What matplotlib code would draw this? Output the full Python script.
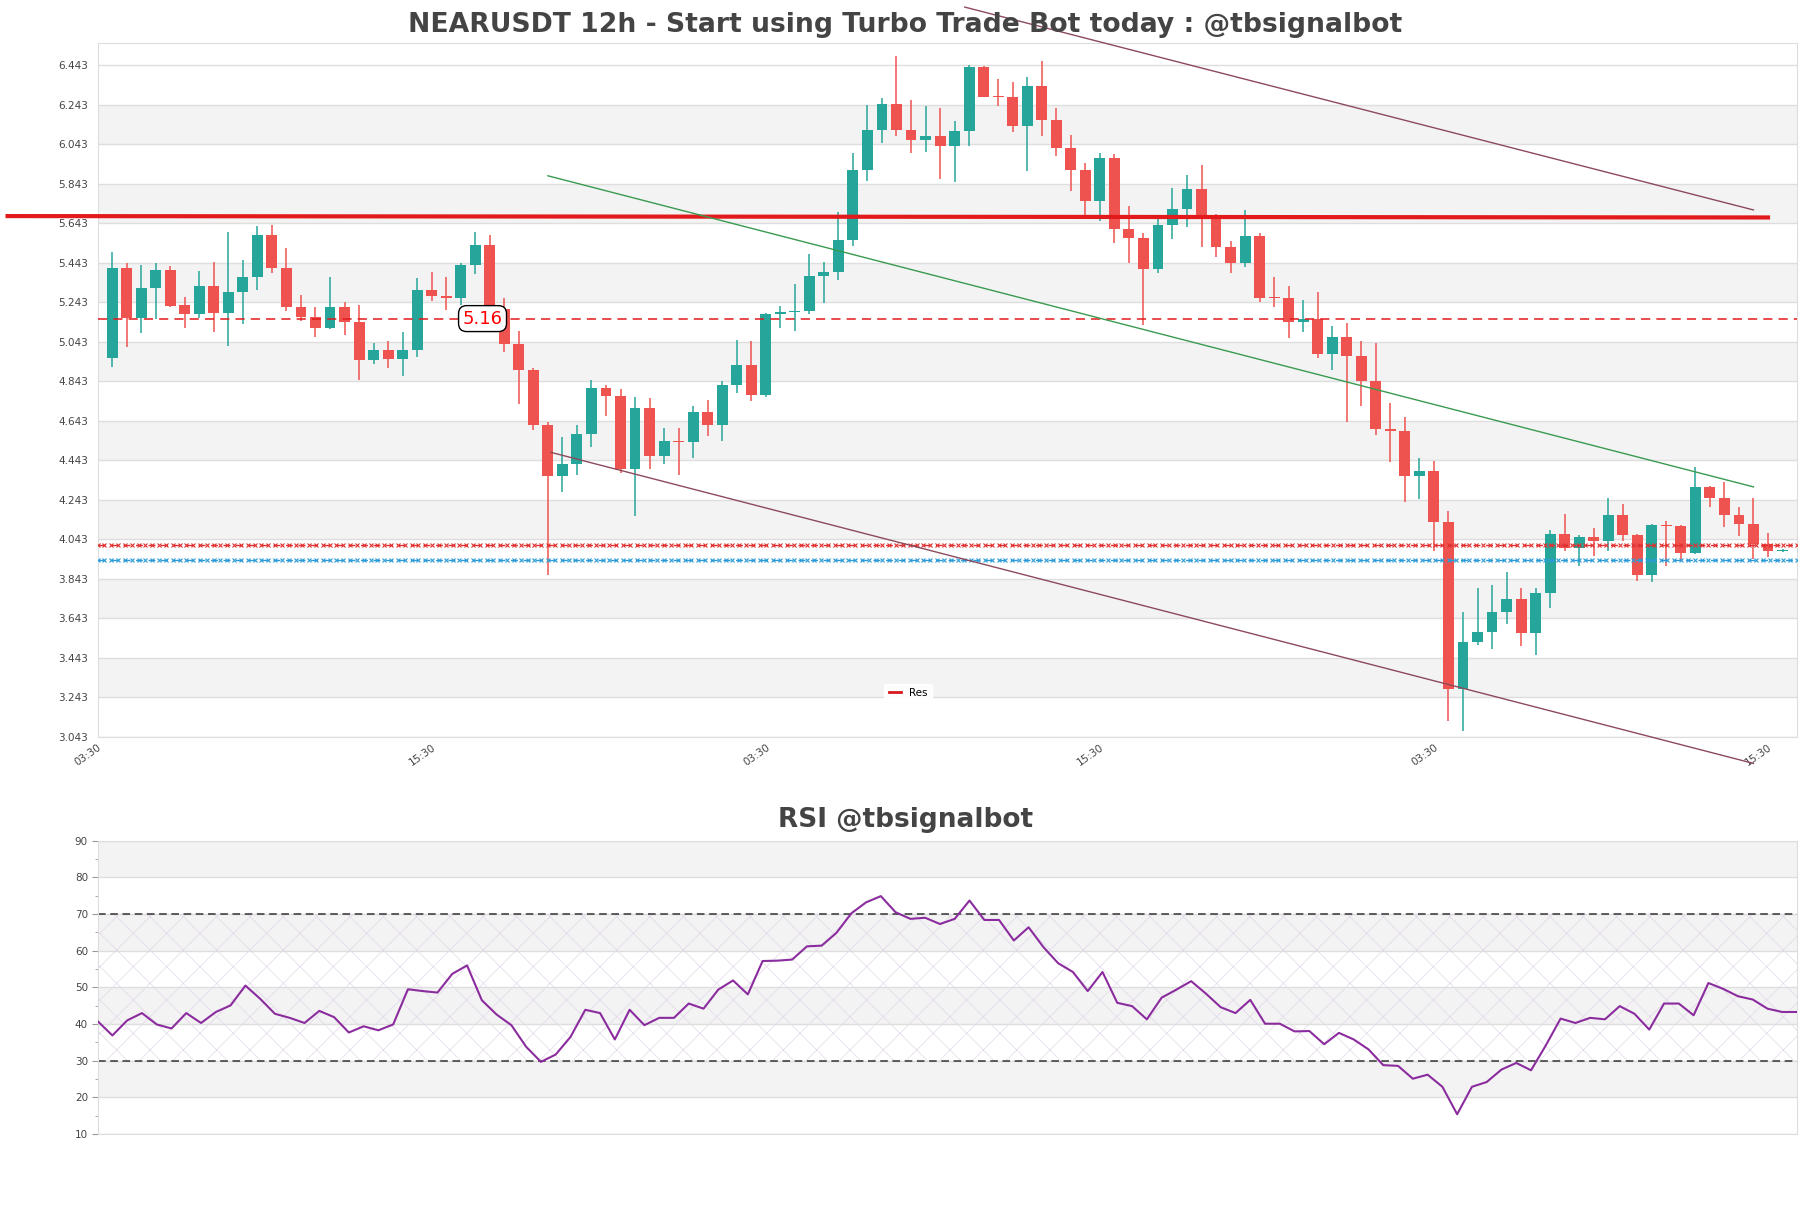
import numpy as np
import matplotlib
matplotlib.use("Agg")
import matplotlib.pyplot as plt
from matplotlib.lines import Line2D

# candle data (12h candles)
opens = [4.958, 5.418, 5.161, 5.316, 5.406, 5.230, 5.181, 5.325, 5.190, 5.294,
         5.370, 5.583, 5.418, 5.220, 5.169, 5.110, 5.220, 5.145, 4.950, 5.000,
         4.955, 5.000, 5.305, 5.276, 5.266, 5.431, 5.531, 5.207, 5.029, 4.902,
         4.623, 4.364, 4.423, 4.575, 4.810, 4.770, 4.398, 4.705, 4.466, 4.538,
         4.533, 4.685, 4.623, 4.823, 4.924, 4.772, 5.183, 5.192, 5.198, 5.375,
         5.398, 5.558, 5.913, 6.115, 6.247, 6.115, 6.065, 6.085, 6.036, 6.110,
         6.436, 6.284, 6.280, 6.137, 6.338, 6.163, 6.026, 5.913, 5.756, 5.972,
         5.614, 5.570, 5.409, 5.634, 5.715, 5.816, 5.668, 5.521, 5.440, 5.578,
         5.266, 5.262, 5.145, 5.158, 4.981, 5.067, 4.970, 4.845, 4.601, 4.592,
         4.364, 4.386, 4.131, 3.287, 3.525, 3.575, 3.677, 3.739, 3.567, 3.773,
         4.069, 4.001, 4.052, 4.036, 4.165, 4.065, 3.863, 4.116, 4.109, 3.971,
         4.309, 4.254, 4.167, 4.121, 4.021, 3.981]
highs = [5.495, 5.440, 5.431, 5.440, 5.426, 5.271, 5.401, 5.448, 5.600, 5.457,
         5.629, 5.634, 5.516, 5.279, 5.220, 5.372, 5.246, 5.228, 5.034, 5.048,
         5.093, 5.367, 5.398, 5.369, 5.440, 5.600, 5.583, 5.262, 5.097, 4.911,
         4.634, 4.562, 4.623, 4.848, 4.823, 4.803, 4.761, 4.756, 4.604, 4.604,
         4.716, 4.749, 4.843, 5.054, 5.048, 5.187, 5.225, 5.335, 5.487, 5.448,
         5.701, 5.997, 6.242, 6.275, 6.490, 6.267, 6.237, 6.225, 6.161, 6.445,
         6.440, 6.374, 6.359, 6.382, 6.465, 6.225, 6.090, 5.946, 5.997, 5.992,
         5.730, 5.592, 5.669, 5.820, 5.887, 5.938, 5.690, 5.555, 5.710, 5.592,
         5.372, 5.326, 5.254, 5.296, 5.122, 5.137, 5.048, 5.034, 4.733, 4.660,
         4.452, 4.440, 4.187, 3.677, 3.795, 3.810, 3.878, 3.798, 3.798, 4.091,
         4.170, 4.064, 4.099, 4.254, 4.222, 4.072, 4.119, 4.136, 4.116, 4.407,
         4.314, 4.331, 4.207, 4.251, 4.074, 3.993]
lows = [4.916, 5.017, 5.085, 5.156, 5.217, 5.110, 5.161, 5.094, 5.023, 5.135,
        5.305, 5.389, 5.200, 5.149, 5.067, 5.105, 5.078, 4.849, 4.930, 4.912,
        4.870, 4.967, 5.250, 5.203, 5.228, 5.386, 5.200, 4.989, 4.727, 4.597,
        3.861, 4.283, 4.369, 4.508, 4.668, 4.376, 4.162, 4.398, 4.423, 4.368,
        4.454, 4.567, 4.542, 4.785, 4.744, 4.763, 5.114, 5.099, 5.185, 5.241,
        5.356, 5.529, 5.859, 6.051, 6.082, 6.000, 6.005, 5.865, 5.853, 6.036,
        6.280, 6.234, 6.103, 5.909, 6.082, 5.985, 5.808, 5.685, 5.656, 5.541,
        5.443, 5.127, 5.389, 5.562, 5.625, 5.525, 5.473, 5.392, 5.419, 5.246,
        5.217, 5.061, 5.094, 4.959, 4.902, 4.635, 4.719, 4.570, 4.432, 4.233,
        4.249, 3.984, 3.123, 3.072, 3.508, 3.489, 3.613, 3.500, 3.457, 3.697,
        3.984, 3.908, 3.959, 3.984, 4.035, 3.832, 3.826, 3.906, 3.935, 3.967,
        4.207, 4.107, 4.061, 3.943, 3.955, 3.979]
closes = [5.418, 5.161, 5.316, 5.406, 5.225, 5.181, 5.325, 5.190, 5.294, 5.370,
          5.583, 5.418, 5.220, 5.169, 5.110, 5.220, 5.145, 4.950, 5.000, 4.955,
          5.000, 5.305, 5.276, 5.266, 5.431, 5.531, 5.207, 5.029, 4.902, 4.623,
          4.364, 4.423, 4.575, 4.810, 4.770, 4.398, 4.705, 4.466, 4.538, 4.533,
          4.685, 4.623, 4.823, 4.924, 4.772, 5.183, 5.192, 5.198, 5.375, 5.398,
          5.558, 5.913, 6.115, 6.247, 6.115, 6.065, 6.085, 6.036, 6.110, 6.436,
          6.284, 6.280, 6.137, 6.338, 6.163, 6.026, 5.913, 5.756, 5.972, 5.614,
          5.570, 5.409, 5.634, 5.715, 5.816, 5.668, 5.521, 5.440, 5.578, 5.266,
          5.262, 5.145, 5.158, 4.981, 5.067, 4.970, 4.845, 4.601, 4.592, 4.364,
          4.386, 4.131, 3.287, 3.525, 3.575, 3.677, 3.739, 3.567, 3.773, 4.069,
          4.001, 4.052, 4.036, 4.165, 4.065, 3.863, 4.116, 4.109, 3.971, 4.309,
          4.254, 4.167, 4.121, 4.021, 3.981, 3.988]

# RSI values, one per candle
rsi = [40.8, 36.9, 41.0, 43.0, 39.9, 38.8, 43.0, 40.3, 43.3, 45.1,
       50.5, 46.9, 42.8, 41.7, 40.3, 43.6, 41.9, 37.7, 39.4, 38.3,
       39.9, 49.5, 49.0, 48.6, 53.7, 56.0, 46.5, 42.6, 39.7, 33.8,
       29.7, 31.7, 36.5, 43.9, 43.0, 35.8, 43.9, 39.7, 41.7, 41.7,
       45.6, 44.2, 49.4, 51.9, 48.1, 57.2, 57.3, 57.6, 61.2, 61.4,
       64.9, 70.2, 73.2, 74.9, 70.5, 68.7, 69.0, 67.3, 68.7, 73.7,
       68.4, 68.4, 62.8, 66.4, 61.0, 56.6, 54.2, 49.0, 54.2, 45.8,
       44.9, 41.3, 47.2, 49.4, 51.7, 48.3, 44.6, 43.0, 46.6, 40.1,
       40.1, 38.0, 38.1, 34.5, 37.6, 35.8, 33.1, 28.8, 28.6, 25.1,
       26.2, 22.9, 15.4, 22.9, 24.2, 27.6, 29.4, 27.4, 34.2, 41.5,
       40.3, 41.7, 41.3, 44.9, 42.8, 38.5, 45.6, 45.6, 42.4, 51.2,
       49.6, 47.6, 46.7, 44.2, 43.3, 43.3]

# x axis labels (every 23 candles)
tick_pos = [-1, 22, 45, 68, 91, 114]
tick_labels = ["03:30", "15:30", "03:30", "15:30", "03:30", "15:30"]

# levels and trend lines (candle index, price)
res_x = [-7.2, 114]
res_y = [5.679, 5.672]
level_516 = 5.16
level_red = 4.013
level_blue = 3.940
chan_top_x = [58.7, 113]
chan_top_y = [6.737, 5.710]
chan_mid_x = [30, 113]
chan_mid_y = [5.883, 4.308]
chan_bot_x = [30.2, 113]
chan_bot_y = [4.483, 2.908]

GREEN = "#26a69a"
RED = "#ef5350"
TXT = "#444444"

y_ticks = np.round(np.arange(3.043, 6.444, 0.2), 3)

plt.rcParams["hatch.linewidth"] = 0.5
fig = plt.figure(figsize=(18.11, 12.08), dpi=100)
ax = fig.add_axes([0.0539, 0.3901, 0.9384, 0.5741])
ax2 = fig.add_axes([0.0539, 0.0612, 0.9384, 0.2428])

n = len(closes)
x = np.arange(n)

# alternating grey bands behind the candles
for lo in y_ticks[1:-1:2]:
    ax.axhspan(lo, lo + 0.2, color="#f3f3f3", zorder=0, lw=0)
for t in y_ticks:
    ax.axhline(t, color="#dedede", lw=1, zorder=0.5)

# candles
for i in range(n):
    o, h, l, c = opens[i], highs[i], lows[i], closes[i]
    col = GREEN if c >= o else RED
    ax.vlines(x[i], l, h, color=col, lw=1.1, zorder=2)
    body = max(abs(c - o), 0.007)
    ax.bar(x[i], body, bottom=min(o, c), width=0.75, color=col, zorder=3, lw=0)

# resistance line (sticks out on the left of the axes)
ax.plot(res_x, res_y, color="#e31a1c", lw=3, zorder=4, clip_on=False, label="Res")

# dashed level with its price box
ax.axhline(level_516, color="#e31a1c", lw=1.1, ls=(0, (6, 4)), zorder=4)
ax.text(25.5, level_516, "5.16", color="red", fontsize=13, ha="center", va="center",
        zorder=6, bbox=dict(boxstyle="round,pad=0.22,rounding_size=0.45", fc="white", ec="black", lw=1))

# x-marked levels
xs = np.linspace(-1, 116, 250)
for lvl, col in [(level_red, "#e03030"), (level_blue, "#2b9bd8")]:
    ax.plot(xs, np.full(len(xs), lvl), color=col, lw=1, ls=(0, (5, 4)),
            marker="x", ms=3.2, mew=0.8, zorder=4)

# trend channel
ax.plot(chan_top_x, chan_top_y, color="#8c4a5c", lw=1, zorder=4, clip_on=False)
ax.plot(chan_mid_x, chan_mid_y, color="#3a9a50", lw=1, zorder=4)
ax.plot(chan_bot_x, chan_bot_y, color="#8c4a5c", lw=1, zorder=4, clip_on=False)

ax.set_xlim(-1, 116)
ax.set_ylim(3.043, 6.554)
ax.set_yticks(y_ticks)
ax.set_yticklabels(["%.3f" % t for t in y_ticks])
ax.set_xticks(tick_pos)
ax.set_xticklabels(tick_labels, rotation=35, ha="right", rotation_mode="anchor")
ax.tick_params(axis="y", length=0, pad=7, labelsize=7.5, labelcolor=TXT)
ax.tick_params(axis="x", length=0, pad=4, labelsize=7.5, labelcolor=TXT)
for s in ax.spines.values():
    s.set_color("#dddddd")

leg = ax.legend(handles=[Line2D([0], [0], color="#d7191c", lw=2)], labels=["Res"],
                loc="center", bbox_to_anchor=(0.477, 0.063), fontsize=7.5,
                handlelength=1.2, frameon=True, framealpha=0.9, edgecolor="white")
leg.get_frame().set_facecolor("white")

# RSI panel
xr = np.arange(len(rsi))
for lo in [20, 40, 60, 80]:
    ax2.axhspan(lo, lo + 10, color="#f3f3f3", zorder=0, lw=0)
for t in range(10, 91, 10):
    ax2.axhline(t, color="#dedede", lw=1, zorder=0.5)
ax2.fill_between([0, len(rsi) - 1], 30, 70, facecolor="none", edgecolor="#e2d8ea",
                 hatch="x", lw=0, zorder=1)
ax2.axhline(70, color="#333333", lw=1.1, ls=(0, (5, 3)), zorder=2)
ax2.axhline(30, color="#333333", lw=1.1, ls=(0, (5, 3)), zorder=2)
ax2.plot(xr, rsi, color="#8b2c9e", lw=1.5, zorder=3)

ax2.set_xlim(0, len(rsi) - 1)
ax2.set_ylim(10, 90)
ax2.set_yticks(range(10, 91, 10))
ax2.set_yticks(range(15, 90, 10), minor=True)
ax2.set_xticks([])
ax2.tick_params(axis="y", which="major", length=4, color="#999999", pad=3,
                labelsize=7.5, labelcolor=TXT)
ax2.tick_params(axis="y", which="minor", length=2, color="#999999")
for s in ax2.spines.values():
    s.set_color("#dddddd")

fig.text(0.5, 0.979, "NEARUSDT 12h - Start using Turbo Trade Bot today : @tbsignalbot",
         ha="center", va="center", fontsize=19.2, fontweight="bold", color=TXT)
fig.text(0.5, 0.321, "RSI @tbsignalbot", ha="center", va="center",
         fontsize=19, fontweight="bold", color=TXT)

fig.savefig("out.png", dpi=100)
